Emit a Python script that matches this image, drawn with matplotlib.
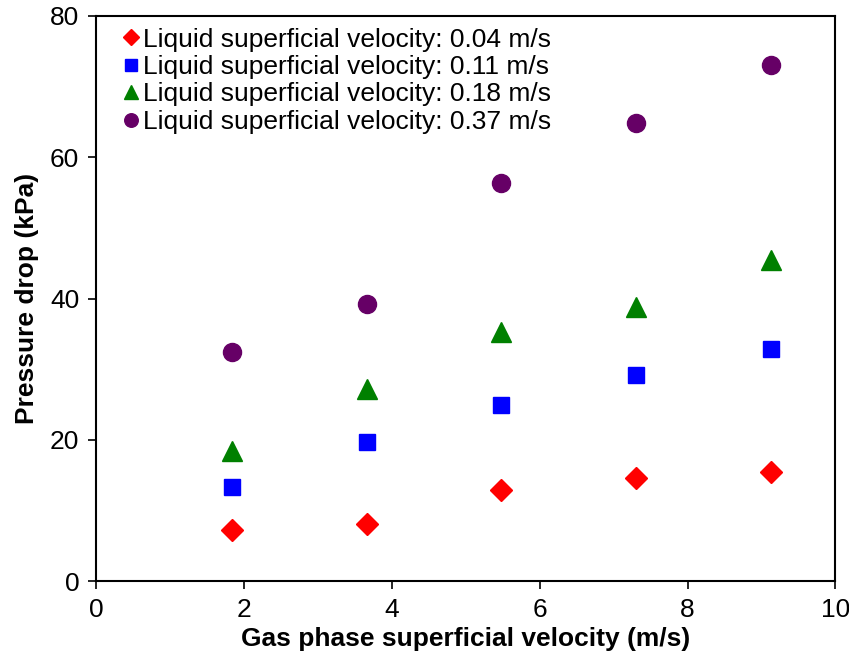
import matplotlib.pyplot as plt

plt.rcParams['font.family'] = ['Liberation Sans', 'DejaVu Sans']

# gas phase superficial velocity (m/s)
gasVelocity = [1.84, 3.66, 5.48, 7.30, 9.13]

# pressure drop (kPa) for each liquid superficial velocity
dp004 = [7.2, 8.1, 12.9, 14.6, 15.4]
dp011 = [13.3, 19.7, 24.9, 29.2, 32.9]
dp018 = [18.4, 27.2, 35.3, 38.8, 45.5]
dp037 = [32.4, 39.2, 56.4, 64.9, 73.1]

labels = ['Liquid superficial velocity: 0.04 m/s',
          'Liquid superficial velocity: 0.11 m/s',
          'Liquid superficial velocity: 0.18 m/s',
          'Liquid superficial velocity: 0.37 m/s']


def main():
    fig = plt.figure(figsize=(8.49, 6.62), dpi=100)
    ax = fig.add_axes([0.113, 0.122, 0.871, 0.854])

    ax.plot(gasVelocity, dp004, 'D', color='#ff0000', markersize=11, label=labels[0], linestyle='none')
    ax.plot(gasVelocity, dp011, 's', color='#0000ff', markersize=12, label=labels[1], linestyle='none')
    ax.plot(gasVelocity, dp018, '^', color='#008000', markersize=14, label=labels[2], linestyle='none')
    ax.plot(gasVelocity, dp037, 'o', color='#660066', markersize=13, label=labels[3], linestyle='none')

    ax.set_xlim(0, 10)
    ax.set_ylim(0, 80)
    ax.set_xticks(range(0, 11, 2))
    ax.set_yticks(range(0, 81, 20))
    ax.tick_params(direction='out', length=6, width=1.2, labelsize=19, pad=6)
    for s in ax.spines.values():
        s.set_linewidth(1.5)

    ax.set_xlabel('Gas phase superficial velocity (m/s)', fontsize=19, fontweight='bold', labelpad=4)
    ax.set_ylabel('Pressure drop (kPa)', fontsize=19, fontweight='bold', labelpad=8)

    ax.legend(loc='upper left', frameon=False, fontsize=19, handletextpad=0.05,
              handlelength=0.8, labelspacing=0.13, borderaxespad=0.0, markerscale=0.75,
              bbox_to_anchor=(0.019, 0.998))

    fig.savefig('out.png', dpi=100)


if __name__ == '__main__':
    main()
